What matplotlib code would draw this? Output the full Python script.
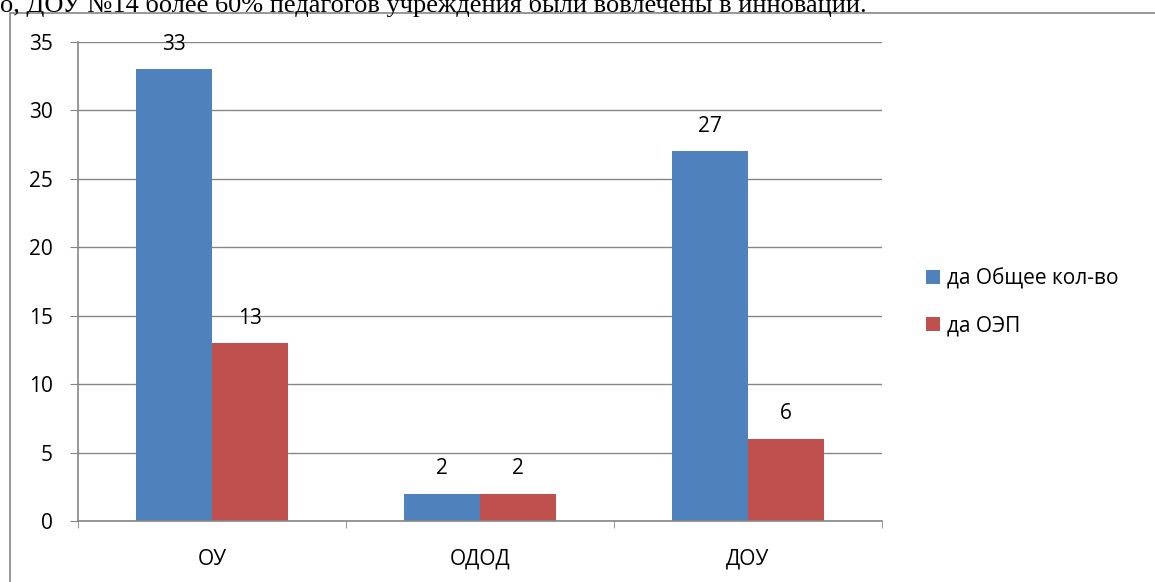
import matplotlib
matplotlib.use("Agg")
import matplotlib.pyplot as plt
from matplotlib.patches import Rectangle
import numpy as np

categories = ["ОУ", "ОДОД", "ДОУ"]
series_names = ["да Общее кол-во", "да ОЭП"]
total = [33, 2, 27]
oep = [13, 2, 6]
yticks = [0, 5, 10, 15, 20, 25, 30, 35]
header = "о, ДОУ №14 более 60% педагогов учреждения были вовлечены в инновации."

blue = "#4F81BD"
red = "#C0504D"
gray = "#868686"

W, H = 1155, 582
fig = plt.figure(figsize=(W / 100, H / 100), dpi=100)
plt.rcParams['font.family'] = ['Open Sans', 'DejaVu Sans']
fs = 15

# outer chart border
fig.patches.append(Rectangle((10 / W, -0.1), 1.2, 1.1 - 13 / H, transform=fig.transFigure,
                             fill=False, edgecolor=gray, linewidth=1.2))
# header text (cut line of document)
fig.text(0.0, 1 - 12 / H, header, family=['Liberation Serif'], fontsize=19,
         va='baseline', ha='left', color='black')

ax = fig.add_axes([78 / W, 1 - 521 / H, (882 - 78) / W, (521 - 42) / H])
x = np.arange(len(categories))
bw = 0.285
b1 = ax.bar(x - bw / 2, total, bw, color=blue, label=series_names[0])
b2 = ax.bar(x + bw / 2, oep, bw, color=red, label=series_names[1])
for bars, vals in ((b1, total), (b2, oep)):
    for r, v in zip(bars, vals):
        ax.annotate(str(v), (r.get_x() + r.get_width() / 2, v), xytext=(0, 18),
                    textcoords='offset points', ha='center', va='center', fontsize=fs)

ax.set_xlim(-0.5, len(categories) - 0.5)
ax.set_ylim(0, 35)
ax.set_yticks(yticks)
ax.set_xticks(x)
ax.set_xticklabels(categories, fontsize=fs)
ax.set_xticks(np.arange(len(categories) + 1) - 0.5, minor=True)
ax.tick_params(axis='x', which='major', length=0, pad=20)
ax.tick_params(axis='x', which='minor', length=5, color=gray, direction='out')
ax.tick_params(axis='y', length=6, color=gray, direction='out', labelsize=fs, pad=12)
ax.yaxis.grid(True, color=gray, linewidth=1)
ax.set_axisbelow(True)
for s in ['top', 'right']:
    ax.spines[s].set_visible(False)
for s in ['left', 'bottom']:
    ax.spines[s].set_color(gray)
    ax.spines[s].set_linewidth(1.2)

ax.legend(loc='center left', bbox_to_anchor=(907 / W, 1 - 302 / H), bbox_transform=fig.transFigure,
          frameon=False, fontsize=fs, handlelength=0.7, handleheight=0.7, handletextpad=0.3,
          labelspacing=1.25)

fig.savefig("out.png", dpi=100)
